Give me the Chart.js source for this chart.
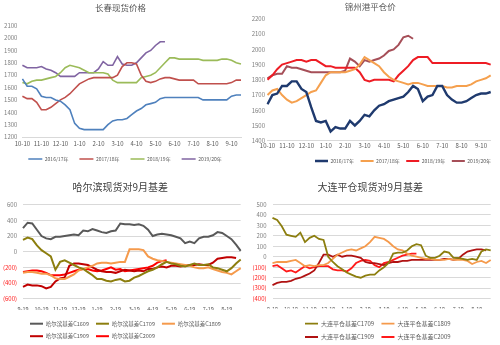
<!DOCTYPE html>
<html><head><meta charset="utf-8">
<script src="https://cdn.jsdelivr.net/npm/chart.js@4.4.0/dist/chart.umd.min.js"></script>
<style>
html,body{margin:0;padding:0;background:#fff;}
#wrap{position:relative;width:500px;height:345px;overflow:hidden;background:#fff;}
canvas{position:absolute;}
</style></head><body>
<div id="wrap">
<canvas id="c1" width="250" height="172" style="left:0;top:0"></canvas>
<canvas id="c2" width="250" height="172" style="left:250px;top:0"></canvas>
<canvas id="c3" width="250" height="173" style="left:0;top:172px"></canvas>
<canvas id="c4" width="250" height="173" style="left:250px;top:172px"></canvas>
</div>
<script>
// ---------- categories / tick labels ----------
const topCats = ['10-10','10-17','10-24','11-02','11-10','11-17','11-24','12-02','12-10','12-17','12-24','1-02',
  '1-10','1-17','1-24','2-02','2-10','2-17','2-24','3-02','3-10','3-17','3-24','4-02','4-10','4-17','4-24','5-02',
  '5-10','5-17','5-24','6-02','6-10','6-17','6-24','7-02','7-10','7-17','7-24','8-02','8-10','8-17','8-24','9-02',
  '9-10','9-17','9-24'];
const topTicks = ['10-10','11-10','12-10','1-10','2-10','3-10','4-10','5-10','6-10','7-10','8-10','9-10'];
const botCats = ['9-19','9-26','10-04','10-11','10-19','10-26','11-04','11-11','11-19','11-26','12-04','12-11',
  '12-19','12-26','1-04','1-11','1-19','1-26','2-04','2-11','2-19','2-26','3-04','3-11','3-19','3-26','4-04','4-11',
  '4-19','4-26','5-04','5-11','5-19','5-26','6-04','6-11','6-19','6-26','7-04','7-11','7-19','7-26','8-04','8-11',
  '8-19','8-26','9-03','9-11'];
const botTicks = ['9-19','10-19','11-19','12-19','1-19','2-19','3-19','4-19','5-19','6-19','7-19','8-19'];

// ---------- 长春现货价格 ----------
const cc1617 = [1670,1610,1610,1590,1530,1520,1520,1500,1490,1460,1420,1310,1270,1260,1260,1260,1260,1260,1300,1330,1340,1340,1350,1380,1410,1430,1460,1470,1480,1510,1520,1520,1520,1520,1520,1520,1520,1520,1500,1500,1500,1500,1500,1500,1530,1540,1540];
const cc1718 = [1530,1510,1510,1480,1420,1420,1440,1470,1500,1520,1550,1590,1630,1650,1670,1680,1680,1680,1680,1680,1700,1770,1800,1800,1790,1700,1650,1640,1650,1670,1680,1680,1670,1660,1660,1660,1660,1630,1630,1630,1630,1630,1630,1630,1640,1660,1660];
const cc1819 = [1640,1630,1650,1660,1660,1670,1680,1690,1720,1760,1780,1770,1760,1740,1720,1720,1720,1720,1710,1660,1640,1640,1640,1640,1640,1680,1690,1700,1720,1760,1800,1840,1840,1830,1830,1830,1830,1830,1820,1820,1820,1820,1830,1830,1820,1800,1790];
const cc1920 = [1780,1760,1760,1760,1770,1750,1740,1720,1690,1690,1690,1690,1720,1720,1720,1720,1750,1810,1780,1780,1850,1790,1780,1780,1800,1840,1880,1900,1940,1970,1970];

// ---------- 锦州港平仓价 ----------
const jz1617 = [1640,1700,1710,1760,1760,1790,1790,1740,1720,1620,1530,1520,1530,1460,1490,1480,1480,1530,1500,1530,1570,1560,1600,1630,1640,1660,1670,1680,1690,1720,1760,1740,1660,1690,1700,1760,1760,1700,1670,1650,1650,1660,1680,1700,1710,1710,1720];
const jz1718 = [1700,1730,1740,1700,1670,1650,1660,1680,1700,1720,1730,1780,1830,1850,1850,1850,1850,1860,1870,1900,1950,1930,1910,1890,1850,1820,1800,1790,1780,1770,1780,1780,1770,1760,1760,1760,1760,1750,1750,1760,1760,1760,1770,1790,1800,1810,1830];
const jz1819 = [1800,1830,1870,1900,1910,1920,1930,1930,1920,1930,1930,1910,1890,1890,1880,1880,1880,1880,1880,1850,1800,1790,1800,1800,1800,1800,1790,1830,1860,1890,1930,1950,1950,1950,1910,1910,1910,1910,1910,1910,1910,1910,1910,1910,1910,1910,1900];
const jz1920 = [1810,1830,1840,1840,1890,1880,1880,1870,1860,1850,1850,1850,1850,1850,1850,1850,1860,1940,1920,1890,1930,1920,1930,1940,1960,1990,2000,2030,2080,2090,2070];

// ---------- 哈尔滨现货对9月基差 ----------
const hrb1609 = [300,370,360,280,200,170,160,190,190,200,210,220,210,270,260,290,270,250,240,260,270,360,350,350,340,350,330,280,200,220,230,220,210,190,170,110,130,110,170,190,190,210,250,240,200,160,90,10];
const hrb1709 = [150,180,160,80,20,-20,-60,-230,-130,-110,-140,-170,-200,-220,-260,-300,-350,-350,-370,-380,-360,-350,-380,-370,-330,-310,-280,-250,-230,-200,-160,-130,-150,-160,-180,-190,-170,-150,-170,-170,-160,-200,-210,-230,-250,-210,-150,-100];
const hrb1809 = [-270,-260,-260,-270,-280,-280,-300,-340,-350,-350,-320,-290,-240,-220,-200,-180,-150,-140,-140,-150,-140,-130,-130,30,30,30,20,-60,-90,-110,-120,-130,-140,-150,-160,-170,-180,-200,-210,-210,-200,-220,-240,-260,-270,-290,-250,-210];
const hrb1909 = [-450,-420,-430,-430,-440,-470,-450,-380,-340,-330,-180,-150,-150,-160,-170,-200,-230,-250,-260,-260,-270,-250,-230,-240,-250,-240,-250,-220,-220,-200,-190,-200,-180,-180,-190,-180,-170,-170,-160,-170,-170,-140,-90,-80,-70,-70,-80,null];
const hrb2009 = [-260,-250,-240,-240,-250,-270,-300,-300,-300,-290,-270,-250,-230,-220,-220,-240,-250,-240,-220,-200,-230,-220,-250,-240,-230,-220,-210,-200,-180,-140,-120,-110];

// ---------- 大连平仓现货对9月基差 ----------
const dl1709 = [370,350,290,210,200,190,230,140,180,200,170,160,0,-50,-90,-120,-150,-170,-190,-200,-180,-170,-170,-130,-100,-60,30,40,40,60,100,120,110,10,-10,-10,10,50,40,-10,-10,-20,-30,-20,-30,50,70,60];
const dl1809 = [-60,-50,-50,-50,-40,-30,-60,-90,-80,-90,-80,-80,-60,-20,20,40,60,70,60,80,100,140,190,180,170,140,100,70,60,30,10,0,-10,-20,-20,-30,-30,-30,-20,-30,-30,-30,-40,-70,-50,-40,-60,-30];
const dl1909 = [-270,-250,-240,-240,-230,-210,-200,-180,-160,-130,-60,20,20,0,20,0,10,10,0,-10,-50,-60,-60,-70,-80,-60,-50,-50,-40,-40,-30,-30,-30,-30,-30,-30,-30,-20,-20,-30,-20,20,50,60,70,70,60,null];
const dl2009 = [-90,-80,-110,-140,-130,-150,-120,-90,-110,-100,-90,-90,-90,-120,-130,-130,-140,-110,-60,-40,-30,-40,-80,-100,-60,-50,-30,-10,10,20,30,30];

// ---------- helpers ----------
const FONT = "'Noto Sans CJK SC','Noto Sans',sans-serif";

const placeLegend = {
  id: 'placeLegend',
  afterLayout(chart, args, o) {
    const lg = chart.legend;
    if (!lg || !o || o.left == null) return;
    lg.left = o.left; lg.right = o.right; lg.width = o.right - o.left;
    lg.top = o.top; lg.bottom = o.top + 60; lg.height = 60;
  }
};

function ds(label, data, color, width) {
  return {label, data, borderColor: color, backgroundColor: color, borderWidth: width,
          pointRadius: 0, pointHoverRadius: 0, tension: 0, fill: false, spanGaps: false};
}

function build(id, c) {
  const tickSet = new Set(c.ticks);
  const titleLH = c.titleSize * 1.2;
  return new Chart(document.getElementById(id), {
    type: 'line',
    data: {labels: c.cats, datasets: c.datasets},
    options: {
      responsive: false, animation: false, devicePixelRatio: 1,
      events: [],
      layout: {padding: {left: 0, right: c.W - c.area.r, top: 0, bottom: 0}},
      plugins: {
        title: {display: true, text: c.title, color: c.titleColor,
          font: {family: FONT, size: c.titleSize, weight: 'normal'},
          padding: {top: c.titleTop, bottom: c.area.t - c.titleTop - titleLH}},
        legend: {display: true, position: 'bottom', align: 'start',
          labels: {usePointStyle: true, pointStyle: 'line', pointStyleWidth: c.lgBox,
            font: {family: FONT, size: c.lgSize}, color: '#595959', padding: c.lgPad}},
        tooltip: {enabled: false},
        placeLegend: {left: c.lgLeft, right: c.lgRight, top: c.lgCy - c.lgPad - c.lgSize / 2}
      },
      scales: {
        x: {
          type: 'category', offset: false,
          grid: {display: false, drawTicks: false},
          border: {display: c.xBorder, color: '#d9d9d9', width: 1},
          ticks: {autoSkip: false, maxRotation: 0, minRotation: 0, padding: c.xPad,
            font: {family: FONT, size: c.xSize}, color: '#595959',
            callback: (v, i) => tickSet.has(c.cats[i]) ? c.cats[i] : ''},
          afterFit: s => { s.height = c.H - c.area.b - s.chart.legend.height; }
        },
        y: {
          min: c.yMin, max: c.yMax,
          grid: {display: c.yGrid, color: '#d9d9d9', lineWidth: 1, drawTicks: false},
          border: {display: false},
          ticks: {stepSize: c.yStep, padding: c.yPad, font: {family: FONT, size: 6},
            color: c.yColor, callback: c.yFmt},
          afterFit: s => { s.width = c.area.l; }
        }
      }
    },
    plugins: [placeLegend]
  });
}

const plainFmt = v => String(v);
const acctFmt = v => v < 0 ? '(' + (-v) + ')' : String(v);
const acctColor = ctx => (ctx.tick && ctx.tick.value < 0) ? '#ff2020' : '#7f7f7f';

build('c1', {
  W: 250, H: 172, area: {l: 22.4, t: 25.7, r: 241, b: 137},
  title: '长春现货价格', titleSize: 8.5, titleTop: 2.5, titleColor: '#595959',
  cats: topCats, ticks: topTicks,
  yMin: 1200, yMax: 2100, yStep: 100, yPad: 5, yGrid: false, yColor: '#7f7f7f', yFmt: plainFmt,
  xPad: 3.5, xBorder: true, xSize: 6,
  lgSize: 5, lgPad: 11, lgBox: 14, lgCy: 159, lgLeft: 17.3, lgRight: 250,
  datasets: [
    ds('2016/17年', cc1617, '#4f81bd', 1.6),
    ds('2017/18年', cc1718, '#c0504d', 1.6),
    ds('2018/19年', cc1819, '#9bbb59', 1.6),
    ds('2019/20年', cc1920, '#8064a2', 1.6)
  ]
});

build('c2', {
  W: 250, H: 172, area: {l: 17.5, t: 19, r: 240.7, b: 140.7},
  title: '锦州港平仓价', titleSize: 8.5, titleTop: 1.6, titleColor: '#595959',
  cats: topCats, ticks: topTicks,
  yMin: 1400, yMax: 2200, yStep: 100, yPad: 2.5, yGrid: false, yColor: '#7f7f7f', yFmt: plainFmt,
  xPad: 1.8, xBorder: true, xSize: 6,
  lgSize: 5, lgPad: 6.5, lgBox: 13, lgCy: 161, lgLeft: 58.5, lgRight: 250,
  datasets: [
    ds('2016/17年', jz1617, '#1f3a6e', 2.4),
    ds('2017/18年', jz1718, '#f5a04e', 2.0),
    ds('2018/19年', jz1819, '#ee1c24', 2.0),
    ds('2019/20年', jz1920, '#a64f58', 2.0)
  ]
});

build('c3', {
  W: 250, H: 173, area: {l: 23, t: 32.7, r: 240.7, b: 126.7},
  title: '哈尔滨现货对9月基差', titleSize: 10, titleTop: 9, titleColor: '#404040',
  cats: botCats, ticks: botTicks,
  yMin: -600, yMax: 600, yStep: 200, yPad: 6, yGrid: true, yColor: acctColor, yFmt: acctFmt,
  xPad: 6.5, xBorder: false, xSize: 5.5,
  lgSize: 5.5, lgPad: 7, lgBox: 13, lgCy: 151.7, lgLeft: 23, lgRight: 240,
  datasets: [
    ds('哈尔滨基差C1609', hrb1609, '#595959', 2.0),
    ds('哈尔滨基差C1709', hrb1709, '#8c7e0e', 2.0),
    ds('哈尔滨基差C1809', hrb1809, '#f59a4c', 2.0),
    ds('哈尔滨基差C1909', hrb1909, '#c00000', 2.0),
    ds('哈尔滨基差C2009', hrb2009, '#ff0000', 2.0)
  ]
});

build('c4', {
  W: 250, H: 173, area: {l: 22.5, t: 32.3, r: 240.7, b: 126.7},
  title: '大连平仓现货对9月基差', titleSize: 10, titleTop: 9, titleColor: '#404040',
  cats: botCats, ticks: botTicks,
  yMin: -400, yMax: 500, yStep: 100, yPad: 6, yGrid: true, yColor: acctColor, yFmt: acctFmt,
  xPad: 6.5, xBorder: false, xSize: 5.5,
  lgSize: 6, lgPad: 7.3, lgBox: 13, lgCy: 151.7, lgLeft: 47.7, lgRight: 222,
  datasets: [
    ds('大连平仓基差C1709', dl1709, '#8c7e0e', 1.8),
    ds('大连平仓基差C1809', dl1809, '#f59a4c', 1.8),
    ds('大连平仓基差C1909', dl1909, '#b01212', 1.8),
    ds('大连平仓基差C2009', dl2009, '#ff1a1a', 1.8)
  ]
});
</script>
</body></html>
